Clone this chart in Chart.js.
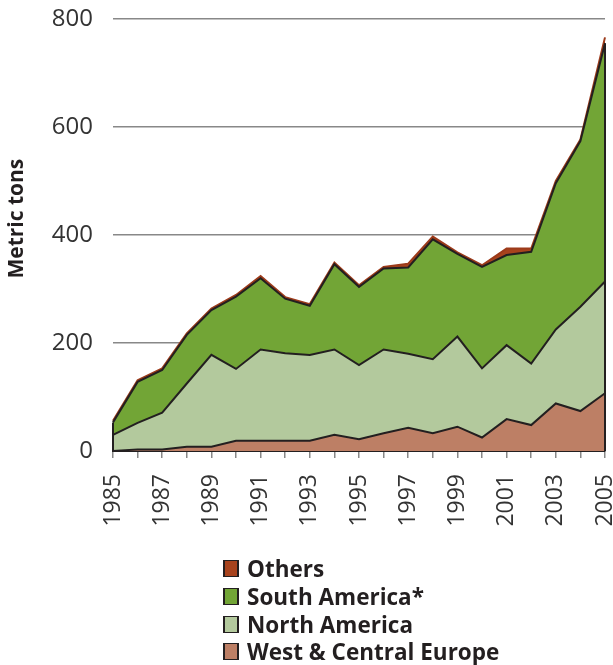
<!DOCTYPE html>
<html>
<head>
<meta charset="utf-8">
<script src="https://cdn.jsdelivr.net/npm/chart.js@4/dist/chart.umd.min.js"></script>
<style>
  body{margin:0;background:#fff;width:613px;height:665px;overflow:hidden;position:relative}
  #wrap{position:absolute;left:0;top:0;width:613px;height:571px}
  #legend{position:absolute;left:223px;top:555px;font-family:"Open Sans",sans-serif;font-weight:700;font-size:22.5px;color:#231f20}
  .row{height:27.7px;display:flex;align-items:center}
  .box{width:16px;height:17px;border:1px solid #231f20;border-width:1px 2px;margin-right:8px;box-sizing:border-box}
</style>
</head>
<body>
<div id="wrap"><canvas id="c"></canvas></div>
<div id="legend"></div>
<script>
const years = ["1985","1986","1987","1988","1989","1990","1991","1992","1993","1994","1995","1996","1997","1998","1999","2000","2001","2002","2003","2004","2005"]
const westEurope = [0,3,3,8,8,19,19,19,19,30,22,33,43,33,45,25,59,48,88,74,107]
const northAmerica = [30,49,68,117,170,133,169,162,159,158,137,155,137,137,167,128,137,114,137,193,207]
const southAmerica = [23,76,79,90,83,134,132,101,91,158,145,150,160,222,153,188,167,207,271,307,441]
const others = [3,3,3,3,3,3,4,3,3,3,3,3,7,5,3,3,12,6,4,3,11]
const yTicks = [0,200,400,600,800]

const layers = [
  {label:"West & Central Europe", data:westEurope, color:"#bd7f65", line:"#231f20"},
  {label:"North America", data:northAmerica, color:"#b3c99d", line:"#231f20"},
  {label:"South America*", data:southAmerica, color:"#72a536", line:"#231f20"},
  {label:"Others", data:others, color:"#a8431d", line:"#9c3a1a"}
]

// vertical edges at first and last year
const edges = {
  id:"edges",
  afterDatasetsDraw(chart){
    const ctx = chart.ctx, x = chart.scales.x, y = chart.scales.y
    const n = years.length - 1
    const top = i => y.getPixelForValue(layers.reduce((s,l)=>s+l.data[i],0) - others[i])
    ctx.save()
    ctx.strokeStyle = "#231f20"
    ctx.lineWidth = 2
    ;[0,n].forEach(i=>{
      ctx.beginPath()
      ctx.moveTo(x.getPixelForValue(i), y.getPixelForValue(0))
      ctx.lineTo(x.getPixelForValue(i), top(i))
      ctx.stroke()
    })
    ctx.restore()
  }
}

const chart = new Chart(document.getElementById("c"),{
  type:"line",
  data:{
    labels:years,
    datasets:layers.map((l,i)=>({
      label:l.label,
      data:l.data,
      backgroundColor:l.color,
      borderColor:l.line,
      borderWidth:2,
      fill:i===0 ? "origin" : "-1",
      pointRadius:0,
      tension:0
    }))
  },
  options:{
    responsive:true,
    maintainAspectRatio:false,
    animation:false,
    layout:{padding:{top:19,right:8,left:0,bottom:0}},
    plugins:{legend:{display:false},tooltip:{enabled:false}},
    scales:{
      x:{
        grid:{drawOnChartArea:false,drawTicks:true,tickLength:7,color:"#888",lineWidth:1.5},
        border:{color:"#231f20",width:2},
        ticks:{
          autoSkip:false,minRotation:90,maxRotation:90,padding:16,
          color:"#333",font:{family:"Open Sans",size:23},
          callback:(v,i)=> i%2===0 ? years[i] : ""
        },
        afterFit(s){ s.height = 120; s.paddingRight = 0; s.paddingLeft = 0 }
      },
      y:{
        stacked:true,
        min:0,max:800,
        afterBuildTicks(s){ s.ticks = yTicks.map(v=>({value:v})) },
        grid:{drawTicks:false,color:"#888",lineWidth:1.5},
        border:{display:false},
        ticks:{padding:20,color:"#333",font:{family:"Open Sans",size:24}},
        title:{display:true,text:"\u00a0\u00a0\u00a0\u00a0\u00a0\u00a0Metric tons",color:"#231f20",font:{family:"Open Sans",size:21,weight:"bold"},padding:{top:4,bottom:0}},
        afterFit(s){ s.width = 113; s.paddingTop = 0; s.paddingBottom = 0 }
      }
    }
  },
  plugins:[edges]
})

const legend = document.getElementById("legend")
layers.slice().reverse().forEach(l=>{
  const row = document.createElement("div")
  row.className = "row"
  row.innerHTML = '<span class="box" style="background:'+l.color+'"></span>' + l.label
  legend.appendChild(row)
})
</script>
</body>
</html>
